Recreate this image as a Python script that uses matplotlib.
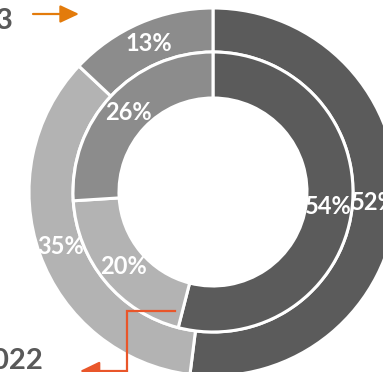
import matplotlib
matplotlib.use("Agg")
import matplotlib.pyplot as plt
from matplotlib.patches import FancyArrowPatch

# ring data (percent shares, clockwise from 12 o'clock)
outer_2023 = [52, 35, 13]
inner_2022 = [54, 20, 26]
ring_colors = ["#5B5B5B", "#B3B3B3", "#8C8C8C"]
inner_colors = ["#5B5B5B", "#B3B3B3", "#8C8C8C"]
year_labels = ["2023", "2022"]

W, H = 383, 372
CX, CY = 213, H - 192  # donut centre in pixel units (y measured upward)


def pct(p):
    return f"{p:.0f}%"


fig = plt.figure(figsize=(W / 100, H / 100), dpi=100)
ax = fig.add_axes([0, 0, 1, 1])

label_font = dict(color="white", fontsize=17, fontweight="bold", family="Lato")

ax.pie(outer_2023, radius=184, center=(CX, CY), startangle=90, counterclock=False,
       colors=ring_colors, autopct=pct, pctdistance=0.88, textprops=label_font,
       wedgeprops=dict(width=44, edgecolor="white", linewidth=2.2))
ax.pie(inner_2022, radius=140, center=(CX, CY), startangle=90, counterclock=False,
       colors=inner_colors, autopct=pct, pctdistance=0.83, textprops=label_font,
       wedgeprops=dict(width=46, edgecolor="white", linewidth=2.2))

ax.set_xlim(0, W)
ax.set_ylim(0, H)
ax.set_aspect("equal")
ax.axis("off")

# year callouts
year_font = dict(color="#595959", fontsize=21, fontweight="bold", family="Lato")
ax.text(13.5, H - 21, year_labels[0], ha="right", va="center", **year_font)
ax.text(43.5, H - 361, year_labels[1], ha="right", va="center", **year_font)

# orange arrow pointing at the outer ring
ax.add_patch(FancyArrowPatch((33, H - 14), (79, H - 14),
                             arrowstyle="-|>,head_length=11.5,head_width=5.4",
                             mutation_scale=1, color="#E37B0B", lw=1.6,
                             shrinkA=0, shrinkB=0))

# elbow arrow from the inner ring down to the 2022 label
red = "#E9562A"
ax.plot([175, 127, 127], [H - 311, H - 311, H - 371], color=red, lw=1.6,
        solid_joinstyle="miter")
ax.add_patch(FancyArrowPatch((127, H - 371), (80, H - 371),
                             arrowstyle="-|>,head_length=12,head_width=5.8",
                             mutation_scale=1, color=red, lw=1.6,
                             shrinkA=0, shrinkB=0))

fig.savefig("out.png", dpi=100)
